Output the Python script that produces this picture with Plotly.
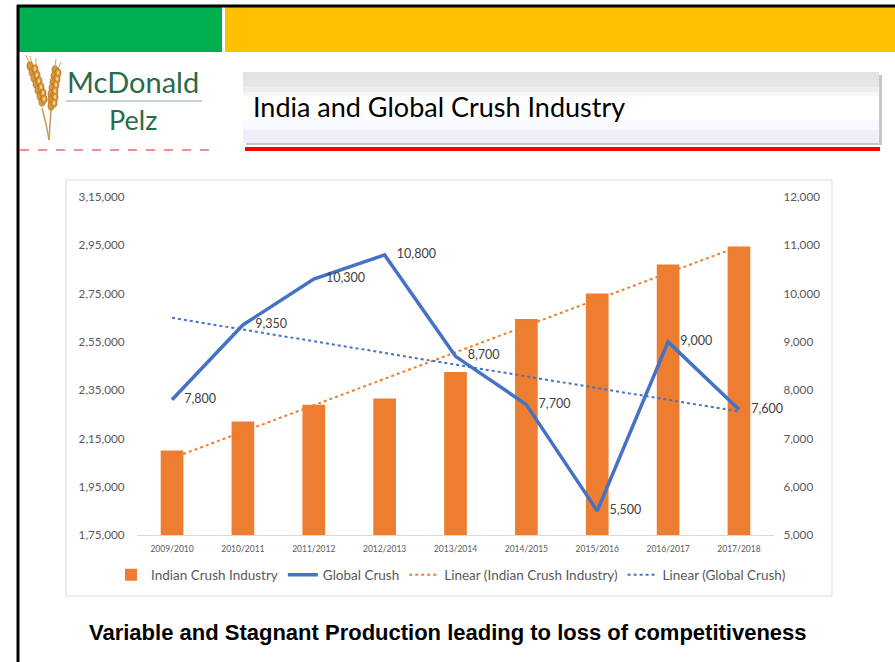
import numpy as np
import plotly.graph_objects as go

# ---------------- data ----------------
years = ["2009/2010", "2010/2011", "2011/2012", "2012/2013", "2013/2014",
         "2014/2015", "2015/2016", "2016/2017", "2017/2018"]
indian_crush = [210000, 222000, 229000, 231500, 242500, 264500, 275000, 287000, 294500]
global_crush = [7800, 9350, 10300, 10800, 8700, 7700, 5500, 9000, 7600]
global_labels = ["7,800", "9,350", "10,300", "10,800", "8,700", "7,700", "5,500", "9,000", "7,600"]

left_tick_vals = [175000, 195000, 215000, 235000, 255000, 275000, 295000, 315000]
left_tick_text = ["1,75,000", "1,95,000", "2,15,000", "2,35,000", "2,55,000",
                  "2,75,000", "2,95,000", "3,15,000"]
right_tick_vals = [5000, 6000, 7000, 8000, 9000, 10000, 11000, 12000]
right_tick_text = ["5,000", "6,000", "7,000", "8,000", "9,000", "10,000", "11,000", "12,000"]

title_text = "India and Global Crush Industry"
caption_text = "Variable and Stagnant Production leading to loss of competitiveness"

# linear trendlines (least squares, like Excel "Linear" trendline)
xi = np.arange(len(years))
p_ind = np.polyfit(xi, indian_crush, 1)
p_glb = np.polyfit(xi, global_crush, 1)
trend_ind = np.polyval(p_ind, xi)
trend_glb = np.polyval(p_glb, xi)

W, H = 895, 662
def px(x): return x / W
def py(y): return 1 - y / H

ORANGE = "#ED7D31"
BLUE = "#4472C4"
GREY_TXT = "#595959"
FONT = "Lato"

fig = go.Figure()
fig.add_trace(go.Bar(x=years, y=indian_crush, name="Indian Crush Industry",
                     marker=dict(color=ORANGE, line=dict(width=0)), width=0.32,
                     yaxis="y"))
fig.add_trace(go.Scatter(x=years, y=global_crush, name="Global Crush", mode="lines+markers+text",
                         line=dict(color=BLUE, width=3.5), text=global_labels,
                         marker=dict(size=18, color="rgba(0,0,0,0)"),
                         textposition="middle right",
                         textfont=dict(size=12.5, color="#404040", family=FONT),
                         yaxis="y2", cliponaxis=False))
fig.add_trace(go.Scatter(x=years, y=trend_ind, name="Linear (Indian Crush Industry)", mode="lines",
                         line=dict(color=ORANGE, width=2, dash="dot"), yaxis="y"))
fig.add_trace(go.Scatter(x=years, y=trend_glb, name="Linear (Global Crush)", mode="lines",
                         line=dict(color=BLUE, width=2, dash="dot"), yaxis="y2"))

shapes = []
# header bars
shapes.append(dict(type="rect", xref="paper", yref="paper", x0=px(19), x1=px(222), y0=py(52), y1=py(7),
                   fillcolor="#00B050", line=dict(width=0), layer="below"))
shapes.append(dict(type="rect", xref="paper", yref="paper", x0=px(225), x1=px(895), y0=py(52), y1=py(7),
                   fillcolor="#FFC000", line=dict(width=0), layer="below"))
# black frame lines
shapes.append(dict(type="line", xref="paper", yref="paper", x0=px(17), x1=px(895), y0=py(6), y1=py(6),
                   line=dict(color="black", width=3)))
shapes.append(dict(type="line", xref="paper", yref="paper", x0=px(18), x1=px(18), y0=py(5), y1=py(662),
                   line=dict(color="black", width=3)))
# red dashed under logo
shapes.append(dict(type="line", xref="paper", yref="paper", x0=px(20), x1=px(217), y0=py(150), y1=py(150),
                   line=dict(color="#E02020", width=1.2, dash="dash")))
# logo separator line
shapes.append(dict(type="line", xref="paper", yref="paper", x0=px(66), x1=px(202), y0=py(101), y1=py(101),
                   line=dict(color="#8aa898", width=1)))
# title box shadow
shapes.append(dict(type="rect", xref="paper", yref="paper", x0=px(246), x1=px(882), y0=py(145), y1=py(75),
                   fillcolor="#c8c8c8", line=dict(width=0), layer="below"))
# title box gradient bands
bands = [(72, 80, "#e3e3e3"), (80, 87, "#e6e6e6"), (87, 92, "#eeeeee"), (92, 96, "#f7f7f7"),
         (96, 120, "#ffffff"), (120, 130, "#f8f9fd"), (130, 143, "#eef0f9")]
for y0, y1, c in bands:
    shapes.append(dict(type="rect", xref="paper", yref="paper", x0=px(243), x1=px(879), y0=py(y1), y1=py(y0),
                       fillcolor=c, line=dict(width=0), layer="below"))
# red underline of title
shapes.append(dict(type="rect", xref="paper", yref="paper", x0=px(245), x1=px(880), y0=py(151), y1=py(147),
                   fillcolor="#FF0000", line=dict(width=0)))
# chart container border
shapes.append(dict(type="rect", xref="paper", yref="paper", x0=px(66), x1=px(832), y0=py(596), y1=py(180),
                   fillcolor="rgba(0,0,0,0)", line=dict(color="#d9d9d9", width=1), layer="below"))

# simple wheat logo (two ears and stems)
stem = "#c99a55"
shapes.append(dict(type="path", xref="paper", yref="paper",
                   path=f"M {px(49)},{py(140)} Q {px(46)},{py(122)} {px(42)},{py(108)}",
                   line=dict(color=stem, width=1.5)))
shapes.append(dict(type="path", xref="paper", yref="paper",
                   path=f"M {px(49)},{py(140)} Q {px(50)},{py(124)} {px(51)},{py(110)}",
                   line=dict(color=stem, width=1.5)))
ear_left = [(30, 66), (32, 72), (34, 78), (36, 84), (38, 90), (40, 96), (42, 102),
            (35, 69), (37, 75), (39, 81), (41, 87), (43, 93), (44, 99)]
ear_right = [(55, 70), (54, 76), (53, 82), (52, 88), (51, 94), (51, 100), (51, 106),
             (58, 73), (57, 79), (56, 85), (55, 91), (55, 97), (54, 103)]
for (gx, gy) in ear_left + ear_right:
    shapes.append(dict(type="circle", xref="paper", yref="paper",
                       x0=px(gx - 3), x1=px(gx + 3), y0=py(gy + 4.2), y1=py(gy - 4.2),
                       fillcolor="#d99838", line=dict(color="#a8661c", width=0.6)))
for (gx, gy) in ear_left[7:] + ear_right[7:]:
    shapes.append(dict(type="circle", xref="paper", yref="paper",
                       x0=px(gx - 1.2), x1=px(gx + 1.2), y0=py(gy + 2), y1=py(gy - 2),
                       fillcolor="#f3d28e", line=dict(width=0)))
for (x0, y0, x1, y1) in [(29, 63, 26, 55), (32, 64, 30, 56), (36, 65, 36, 58),
                         (55, 66, 56, 59), (58, 69, 61, 62)]:
    shapes.append(dict(type="line", xref="paper", yref="paper", x0=px(x0), x1=px(x1), y0=py(y0), y1=py(y1),
                       line=dict(color="#c48a3a", width=0.8)))

annotations = [
    dict(text="McDonald", x=px(133), y=py(100.5), xref="paper", yref="paper", showarrow=False,
         font=dict(family=FONT, size=29, color="#2a6b48"), xanchor="center", yanchor="bottom",
         borderpad=0),
    dict(text="Pelz", x=px(133), y=py(101.5), xref="paper", yref="paper", showarrow=False,
         font=dict(family=FONT, size=27, color="#2a6b48"), xanchor="center", yanchor="top",
         borderpad=0),
    dict(text=title_text, x=px(251), y=py(107), xref="paper", yref="paper", showarrow=False,
         font=dict(family=FONT, size=27, color="#000000"), xanchor="left", yanchor="middle"),
    dict(text="<b>" + caption_text + "</b>", x=px(448), y=py(632), xref="paper", yref="paper",
         showarrow=False, font=dict(family="Liberation Sans", size=22, color="#000000"),
         xanchor="center", yanchor="middle"),
]

fig.update_layout(
    template="none",
    width=W, height=H, margin=dict(l=0, r=0, t=0, b=0, pad=0, autoexpand=False),
    paper_bgcolor="white", plot_bgcolor="rgba(0,0,0,0)",
    font=dict(family=FONT, color=GREY_TXT),
    shapes=shapes, annotations=annotations,
    showlegend=True,
    legend=dict(orientation="h", x=px(451), y=py(575), xanchor="center", yanchor="middle",
                font=dict(size=13.5, color=GREY_TXT, family=FONT), bgcolor="rgba(0,0,0,0)",
                itemwidth=30, tracegroupgap=0),
    xaxis=dict(domain=[px(136.6), px(774.4)], type="category", categoryorder="array",
               categoryarray=years, range=[-0.5, len(years) - 0.5], autorange=False,
               showline=True, linecolor="#d9d9d9", linewidth=1,
               showgrid=False, zeroline=False, ticks="",
               tickfont=dict(size=8.5, color=GREY_TXT, family=FONT),
               ticklabelstandoff=6, anchor="y", automargin=False),
    yaxis=dict(domain=[py(535), py(197)], range=[175000, 315000], tickvals=left_tick_vals,
               ticktext=left_tick_text, showgrid=False, zeroline=False, showline=False, ticks="",
               tickfont=dict(size=11.7, color=GREY_TXT, family=FONT), ticklabelstandoff=11,
               automargin=False),
    yaxis2=dict(domain=[py(535), py(197)], range=[5000, 12000], tickvals=right_tick_vals,
                ticktext=right_tick_text, overlaying="y", side="right", showgrid=False,
                zeroline=False, showline=False, ticks="",
                tickfont=dict(size=11.7, color=GREY_TXT, family=FONT), ticklabelstandoff=8,
                anchor="x", automargin=False),
)

fig.write_html("out.html", config={"displayModeBar": False},
               post_script="document.documentElement.style.margin='0';"
                           "document.body.style.margin='0';document.body.style.padding='0';"
                           "document.body.style.overflow='hidden';"
                           "var d=document.getElementById('{plot_id}');"
                           "d.style.position='fixed';d.style.top='0px';d.style.left='0px';")
